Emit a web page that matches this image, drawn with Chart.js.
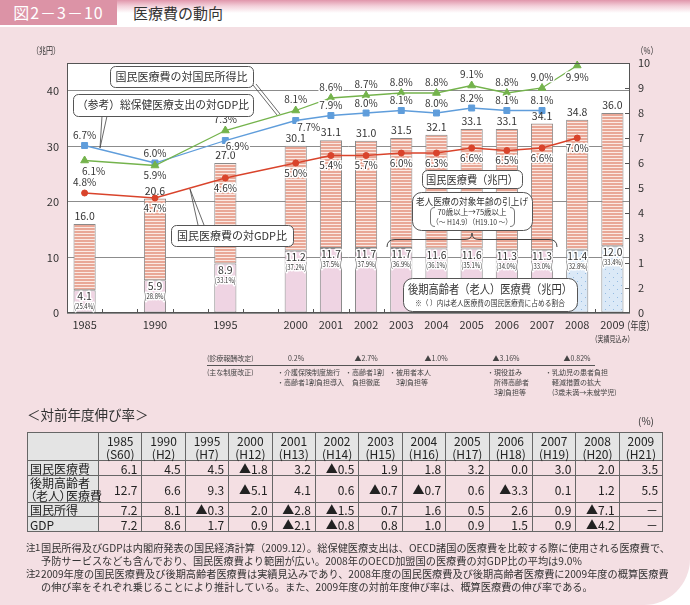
<!DOCTYPE html>
<html lang="ja">
<head>
<meta charset="utf-8">
<title>医療費の動向</title>
<script src="https://cdn.jsdelivr.net/npm/chart.js@4.4.1/dist/chart.umd.min.js"></script>
<style>
    body { margin: 0; width: 690px; height: 605px; position: relative; overflow: hidden; background: #fff;
           font-family: "Noto Sans CJK JP", sans-serif; color: #333; }
    #page { position: absolute; left: 0; top: 27px; width: 690px; height: 578px; background: #f4dfe3; border-bottom-right-radius: 46px; }
    #band { position: absolute; left: 0; top: 0; width: 690px; height: 27px; background: linear-gradient(#e096ab 0px, #f3d0da 6px, #fff 13px); }
    #figno { position: absolute; left: 0; top: 0; width: 117px; height: 25px; background: #dc93a6; color: #fff; font-size: 16px; line-height: 25px; text-align: center; letter-spacing: 1px; }
    #title { position: absolute; left: 133px; top: 3px; font-size: 15px; line-height: 20px; color: #333; }
    canvas { position: absolute; left: 0; top: 0; }
    .s { position: absolute; font-size: 7px; line-height: 10px; white-space: nowrap; color: #444; }
    .c { transform: translateX(-50%); }
    #rule { position: absolute; border-top: 1px solid #555; height: 0; }
    #growthTitle { position: absolute; left: 27px; top: 405px; font-size: 13.5px; line-height: 18px; }
    #growthUnit { position: absolute; left: 638px; top: 414px; font-size: 10px; line-height: 14px; }
    #growth { position: absolute; left: 27px; top: 432px; width: 635px; border-collapse: collapse; table-layout: fixed; font-size: 12px; color: #222; }
    #growth td, #growth th { border: 1px solid #666; padding: 0 4px 0 0; text-align: right; font-weight: normal; line-height: 13px; white-space: nowrap; }
    #growth th { background: #e4e4e4; text-align: center; padding: 0; }
    #growth td.h { background: #e4e4e4; text-align: left; padding-left: 2px; font-feature-settings: "palt"; }
    .note { position: absolute; left: 41px; font-size: 10.2px; line-height: 13px; white-space: nowrap; color: #333; }
    .nh { position: absolute; left: -15px; font-size: 9.5px; letter-spacing: -0.5px; }
</style>
</head>
<body>
<div id="page"></div>
<div id="band"></div>
<div id="figno">図2－3－10</div>
<div id="title">医療費の動向</div>
<canvas id="chart" width="690" height="605"></canvas>

<div class="s" style="left:207px;top:353px">(診療報酬改定)</div>
<div class="s c" style="left:296px;top:353px">0.2%</div>
<div class="s c" style="left:366px;top:353px">▲2.7%</div>
<div class="s c" style="left:436px;top:353px">▲1.0%</div>
<div class="s c" style="left:506px;top:353px">▲3.16%</div>
<div class="s c" style="left:577px;top:353px">▲0.82%</div>
<div id="rule" style="left:207px;top:365px;width:388px"></div>
<div class="s" style="left:207px;top:367px">(主な制度改正)</div>
<div class="s" style="left:277px;top:367px">・介護保険制度施行<br>・高齢者1割負担導入</div>
<div class="s" style="left:345px;top:367px">・高齢者1割<br>　負担徹底</div>
<div class="s" style="left:389px;top:367px">・被用者本人<br>　3割負担等</div>
<div class="s" style="left:487px;top:367px">・現役並み<br>　所得高齢者<br>　3割負担等</div>
<div class="s" style="left:545px;top:367px">・乳幼児の患者負担<br>　軽減措置の拡大<br>　(3歳未満→未就学児)</div>

<div id="growthTitle">＜対前年度伸び率＞</div>
<div id="growthUnit">(%)</div>
<table id="growth"></table>

<div class="note" style="top:541px"><span class="nh">注1</span>国民所得及びGDPは内閣府発表の国民経済計算（2009.12）。総保健医療支出は、OECD諸国の医療費を比較する際に使用される医療費で、<br>予防サービスなども含んでおり、国民医療費より範囲が広い。2008年のOECD加盟国の医療費の対GDP比の平均は9.0%</div>
<div class="note" style="top:567px"><span class="nh">注2</span>2009年度の国民医療費及び後期高齢者医療費は実績見込みであり、2008年度の国民医療費及び後期高齢者医療費に2009年度の概算医療費<br>の伸び率をそれぞれ乗じることにより推計している。また、2009年度の対前年度伸び率は、概算医療費の伸び率である。</div>

<script>
//#region Data
const years = ['1985', '1990', '1995', '2000', '2001', '2002', '2003', '2004', '2005', '2006', '2007', '2008', '2009']
const axisSlots = ['1985', '', '1990', '', '1995', '', '2000', '2001', '2002', '2003', '2004', '2005', '2006', '2007', '2008', '2009']
const leftTicks = [0, 10, 20, 30, 40]
const rightTickLabels = ['0', '2', '1', '3', '4', '5', '6', '7', '8', '9', '10']

// 兆円
const totalCost = [16.0, 20.6, 27.0, 30.1, 31.1, 31.0, 31.5, 32.1, 33.1, 33.1, 34.1, 34.8, 36.0]
const elderlyCost = [4.1, 5.9, 8.9, 11.2, 11.7, 11.7, 11.7, 11.6, 11.6, 11.3, 11.3, 11.4, 12.0]
const elderlyShare = [25.4, 28.8, 33.1, 37.2, 37.5, 37.9, 36.9, 36.1, 35.1, 34.0, 33.0, 32.8, 33.4]
const lateElderlyYears = ['2008', '2009']

// %
const incomeRatio = [6.1, 5.9, 7.3, 8.1, 8.6, 8.7, 8.8, 8.8, 9.1, 8.8, 9.0, 9.9]
const oecdGdpRatio = [6.7, 6.0, 6.9, 7.7, 7.9, 8.0, 8.1, 8.0, 8.2, 8.1, 8.1]
// points where the figure plots them; the printed labels differ
const gdpRatio = [4.8, 4.6, 5.4, 6.0, 6.3, 6.3, 6.4, 6.4, 6.6, 6.5, 6.6, 7.0]
const gdpRatioPrinted = ['4.8%', '4.7%', '4.6%', '5.0%', '5.4%', '5.7%', '6.0%', '6.3%', '6.6%', '6.5%', '6.6%', '7.0%']

// 対前年度伸び率
const eraNames = ['(S60)', '(H2)', '(H7)', '(H12)', '(H13)', '(H14)', '(H15)', '(H16)', '(H17)', '(H18)', '(H19)', '(H20)', '(H21)']
const growthTotal = ['6.1', '4.5', '4.5', '▲1.8', '3.2', '▲0.5', '1.9', '1.8', '3.2', '0.0', '3.0', '2.0', '3.5']
const growthElderly = ['12.7', '6.6', '9.3', '▲5.1', '4.1', '0.6', '▲0.7', '▲0.7', '0.6', '▲3.3', '0.1', '1.2', '5.5']
const growthIncome = ['7.2', '8.1', '▲0.3', '2.0', '▲2.8', '▲1.5', '0.7', '1.6', '0.5', '2.6', '0.9', '▲7.1', '－']
const growthGdp = ['7.2', '8.6', '1.7', '0.9', '▲2.1', '▲0.8', '0.8', '1.0', '0.9', '1.5', '0.9', '▲4.2', '－']
//#endregion

//#region Helpers
const FONT = '"Noto Sans CJK JP", sans-serif'

MakePattern = (w, h, paint) => {
    let c = document.createElement('canvas')
    c.width = w
    c.height = h
    let g = c.getContext('2d')
    paint(g)
    return g.createPattern(c, 'repeat')
}

const stripes = MakePattern(4, 3, g => {
    g.fillStyle = '#e9a796'; g.fillRect(0, 0, 4, 3)
    g.fillStyle = '#fbe9e3'; g.fillRect(0, 2, 4, 1)
})
const dots = MakePattern(8, 8, g => {
    g.fillStyle = '#dbe9f7'; g.fillRect(0, 0, 8, 8)
    g.fillStyle = '#94bbe2'; g.fillRect(1, 1, 1, 1); g.fillRect(5, 5, 1, 1)
})

Text = (ctx, str, x, y, size, opts = {}) => {
    ctx.save()
    ctx.font = `${size}px ${FONT}`
    ctx.textAlign = opts.align || 'center'
    ctx.textBaseline = 'middle'
    if (opts.halo) {
        ctx.strokeStyle = '#fff'
        ctx.lineWidth = 3
        ctx.lineJoin = 'round'
        opts.max ? ctx.strokeText(str, x, y, opts.max) : ctx.strokeText(str, x, y)
    }
    ctx.fillStyle = opts.color || '#333'
    opts.max ? ctx.fillText(str, x, y, opts.max) : ctx.fillText(str, x, y)
    ctx.restore()
}

Box = (ctx, x, y, w, h, r) => {
    ctx.save()
    ctx.beginPath()
    ctx.roundRect(x + 0.5, y + 0.5, w, h, r)
    ctx.fillStyle = '#fff'
    ctx.fill()
    ctx.strokeStyle = '#555'
    ctx.lineWidth = 1
    ctx.stroke()
    ctx.restore()
}

Lines = (ctx, segs) => {
    ctx.save()
    ctx.strokeStyle = '#444'
    ctx.lineWidth = 0.8
    ctx.beginPath()
    segs.forEach(([x1, y1, x2, y2]) => { ctx.moveTo(x1, y1); ctx.lineTo(x2, y2) })
    ctx.stroke()
    ctx.restore()
}
//#endregion

//#region Plugin
const lineLabels = [
    { dataset: 2, texts: incomeRatio.map(v => v.toFixed(1) + '%'), offset: i => i === 0 ? [9, 11] : i === 1 ? [0, 10] : i === 11 ? [0, 12] : [0, -11] },
    { dataset: 3, texts: oecdGdpRatio.map(v => v.toFixed(1) + '%'), offset: i => i === 2 ? [12, 6] : i === 3 ? [13, 7] : [0, -10] },
    { dataset: 4, texts: gdpRatioPrinted, offset: i => i === 0 ? [0, -11] : [0, 10] }
]

const figurePlugin = {
    id: 'figure',
    beforeDraw(chart) {
        const { ctx, chartArea: a } = chart
        ctx.save()
        ctx.fillStyle = '#fff'
        ctx.fillRect(a.left, a.top, a.right - a.left, a.bottom - a.top)
        ctx.restore()
    },
    afterDatasetsDraw(chart) {
        const { ctx, chartArea: a, scales } = chart
        const x = scales.x, y = scales.y, y2 = scales.y2

        // frame and inner ticks
        ctx.save()
        ctx.strokeStyle = '#555'
        ctx.lineWidth = 1
        ctx.strokeRect(a.left + 0.5, a.top + 0.5, a.right - a.left - 1, a.bottom - a.top - 1)
        const slot = x.getPixelForValue(1) - x.getPixelForValue(0)
        ctx.beginPath()
        axisSlots.forEach((s, i) => {
            if (!i) return
            let px = Math.round(x.getPixelForValue(i) - slot / 2) + 0.5
            ctx.moveTo(px, a.bottom)
            ctx.lineTo(px, a.bottom - 4)
        })
        for (let v = 1; v < 10; v++) {
            let py = Math.round(y2.getPixelForValue(v)) + 0.5
            ctx.moveTo(a.right, py)
            ctx.lineTo(a.right - 5, py)
        }
        ctx.stroke()
        ctx.restore()

        // bar labels
        const barMeta = chart.getDatasetMeta(1)
        years.forEach((yr, i) => {
            const bx = barMeta.data[i].x
            Text(ctx, totalCost[i].toFixed(1), bx, y.getPixelForValue(totalCost[i]) - 8, 10.5)
            const ey = y.getPixelForValue(elderlyCost[i])
            Text(ctx, elderlyCost[i].toFixed(1), bx, ey + 6, 10.5, { halo: true, max: 20 })
            Text(ctx, `(${elderlyShare[i].toFixed(1)}%)`, bx, ey + 16, 8, { halo: true, max: 21 })
        })

        // leader lines
        Lines(ctx, [[253, 85, 277, 115], [256, 84, 280, 114],
                    [102, 116, 100, 148], [107, 116, 100, 148],
                    [198, 225, 190, 189], [204, 225, 190, 189]])

        // brace
        ctx.save()
        ctx.strokeStyle = '#444'
        ctx.lineWidth = 1
        ctx.beginPath()
        ctx.moveTo(387, 247)
        ctx.quadraticCurveTo(387, 239.5, 395, 239.5)
        ctx.lineTo(465, 239.5)
        ctx.quadraticCurveTo(472, 239.5, 472, 233)
        ctx.quadraticCurveTo(472, 239.5, 479, 239.5)
        ctx.lineTo(549, 239.5)
        ctx.quadraticCurveTo(557, 239.5, 557, 247)
        ctx.stroke()
        ctx.restore()

        // line labels
        lineLabels.forEach(spec => {
            const meta = chart.getDatasetMeta(spec.dataset)
            meta.data.forEach((pt, i) => {
                const [dx, dy] = spec.offset(i)
                Text(ctx, spec.texts[i], pt.x + dx, pt.y + dy, 10, { halo: true })
            })
        })

        // callouts
        Box(ctx, 110, 66, 143, 21, 5)
        Text(ctx, '国民医療費の対国民所得比', 181.5, 77, 11, { max: 133 })
        Box(ctx, 73, 94, 180, 22, 5)
        Text(ctx, '（参考）総保健医療支出の対GDP比', 163, 105, 11, { max: 172 })
        Box(ctx, 171, 225, 122, 21, 5)
        Text(ctx, '国民医療費の対GDP比', 232, 236, 11, { max: 112 })
        Box(ctx, 422, 170, 100, 18, 5)
        Text(ctx, '国民医療費（兆円）', 472, 179.5, 11.5, { max: 92 })
        Box(ctx, 412, 192, 120, 38, 9)
        Text(ctx, '老人医療の対象年齢の引上げ', 472, 201, 9.5, { max: 112 })
        ctx.save()
        ctx.strokeStyle = '#555'
        ctx.lineWidth = 0.8
        ctx.beginPath()
        ctx.moveTo(435, 207.5); ctx.quadraticCurveTo(430.5, 207.5, 430.5, 212); ctx.lineTo(430.5, 222); ctx.quadraticCurveTo(430.5, 226.5, 435, 226.5)
        ctx.moveTo(510, 207.5); ctx.quadraticCurveTo(514.5, 207.5, 514.5, 212); ctx.lineTo(514.5, 222); ctx.quadraticCurveTo(514.5, 226.5, 510, 226.5)
        ctx.stroke()
        ctx.restore()
        Text(ctx, '70歳以上→75歳以上', 472, 212, 7.5)
        Text(ctx, '（～ H14.9）（H19.10 ～）', 472, 222, 7.5, { max: 80 })
        Box(ctx, 403, 278, 174, 33, 9)
        Text(ctx, '後期高齢者（老人）医療費（兆円）', 490, 289.5, 12, { max: 164 })
        Text(ctx, '※（ ）内は老人医療費の国民医療費に占める割合', 490, 303, 7.5, { max: 150 })
    },
    afterDraw(chart) {
        const { ctx, scales } = chart
        const x2009 = scales.x.getPixelForValue(axisSlots.indexOf('2009'))
        Text(ctx, '（年度）', x2009 + 10, 326, 11, { align: 'left', max: 32 })
        Text(ctx, '（実績見込み）', x2009, 339, 8.5, { max: 42 })
        Text(ctx, '（兆円）', 60, 50, 9.5, { align: 'right', max: 28 })
        Text(ctx, '（%）', 636, 50, 9.5, { align: 'left', max: 22 })
    }
}
//#endregion

//#region Chart
RenderChart = () => {
    new Chart(document.getElementById('chart'), {
        type: 'bar',
        data: {
            labels: axisSlots,
            datasets: [
                {
                    data: years.map((yr, i) => ({ x: yr, y: [0, elderlyCost[i]] })),
                    backgroundColor: years.map(yr => lateElderlyYears.includes(yr) ? dots : '#efd4e3'),
                    borderColor: '#8a8a8a', borderWidth: 1, borderSkipped: false,
                    grouped: false, barPercentage: 0.63, categoryPercentage: 1, order: 1
                },
                {
                    data: years.map((yr, i) => ({ x: yr, y: [elderlyCost[i], totalCost[i]] })),
                    backgroundColor: stripes,
                    borderColor: '#8a8a8a', borderWidth: 1, borderSkipped: false,
                    grouped: false, barPercentage: 0.63, categoryPercentage: 1, order: 1
                },
                {
                    type: 'line', yAxisID: 'y2', order: 0, clip: false,
                    data: incomeRatio.map((v, i) => ({ x: years[i], y: v })),
                    borderColor: '#74b34c', backgroundColor: '#74b34c', borderWidth: 1.3,
                    pointStyle: 'triangle', pointRadius: 4.5, pointBorderWidth: 1
                },
                {
                    type: 'line', yAxisID: 'y2', order: 0, clip: false,
                    data: oecdGdpRatio.map((v, i) => ({ x: years[i], y: v })),
                    borderColor: '#5f9ddb', backgroundColor: '#5f9ddb', borderWidth: 1.3,
                    pointStyle: 'rect', pointRadius: 4.2, pointBorderWidth: 1
                },
                {
                    type: 'line', yAxisID: 'y2', order: 0, clip: false,
                    data: gdpRatio.map((v, i) => ({ x: years[i], y: v })),
                    borderColor: '#d9432b', backgroundColor: '#d9432b', borderWidth: 1.3,
                    pointStyle: 'circle', pointRadius: 3, pointBorderWidth: 1
                }
            ]
        },
        options: {
            responsive: false,
            animation: false,
            events: [],
            layout: { padding: { top: 63, bottom: 262, left: 0, right: 0 } },
            plugins: { legend: { display: false }, tooltip: { enabled: false } },
            scales: {
                x: {
                    type: 'category', offset: true,
                    grid: { display: false, drawTicks: false },
                    border: { display: false },
                    ticks: { color: '#333', font: { size: 11, family: FONT }, padding: 5, maxRotation: 0, autoSkip: false },
                    afterFit: s => { s.height = 30 }
                },
                y: {
                    position: 'left', min: 0, max: 45,
                    afterBuildTicks: s => { s.ticks = leftTicks.map(v => ({ value: v })) },
                    grid: { color: '#8c8c8c', drawTicks: false },
                    border: { display: false },
                    ticks: { color: '#333', font: { size: 11, family: FONT }, padding: 8 },
                    afterFit: s => { s.width = 67 }
                },
                y2: {
                    position: 'right', min: 0, max: 10,
                    grid: { display: false, drawTicks: false },
                    border: { display: false },
                    ticks: { stepSize: 1, color: '#333', font: { size: 11, family: FONT }, padding: 8, callback: (v, i) => rightTickLabels[i] },
                    afterFit: s => { s.width = 60 }
                }
            }
        },
        plugins: [figurePlugin]
    })
}
//#endregion

//#region Table
RenderTable = () => {
    let table = document.getElementById('growth')
    let cols = '<col style="width:71px">' + years.map(() => '<col style="width:43.4px">').join('')
    let head = `<tr style="height:28px"><th></th>${years.map((yr, i) => `<th>${yr}<br>${eraNames[i]}</th>`).join('')}</tr>`
    let row = (label, values, h) => `<tr style="height:${h}px"><td class="h">${label}</td>${values.map(v => `<td>${v}</td>`).join('')}</tr>`
    table.innerHTML = cols + head +
        row('国民医療費', growthTotal, 15) +
        row('後期高齢者<br>（老人）医療費', growthElderly, 27) +
        row('国民所得', growthIncome, 14) +
        row('GDP', growthGdp, 15)
}
//#endregion

window.onload = () => {
    RenderChart()
    RenderTable()
}
</script>
</body>
</html>
